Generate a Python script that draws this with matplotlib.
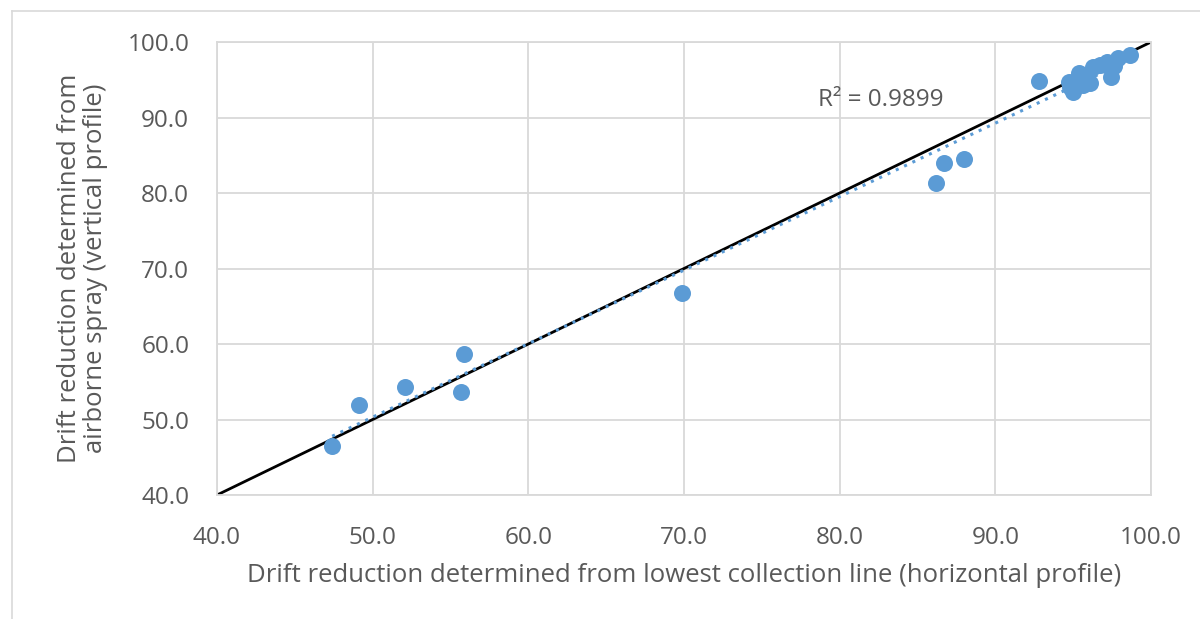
import numpy as np
import matplotlib
matplotlib.use('Agg')
import matplotlib.pyplot as plt

# drift reduction values
horizontal = [47.4, 49.1, 52.1, 55.7, 55.9, 69.9, 86.2, 86.7, 88.0, 92.8,
              94.8, 95.0, 94.7, 95.4, 95.9, 96.1, 96.3, 96.7, 97.2, 97.4,
              97.9, 98.65, 97.6, 95.6, 95.3]
vertical = [46.5, 51.9, 54.3, 53.6, 58.7, 66.8, 81.3, 84.0, 84.5, 94.8,
            94.0, 93.4, 94.7, 95.9, 95.2, 94.6, 96.7, 97.0, 97.4, 95.4,
            97.9, 98.3, 96.8, 94.3, 95.0]
r2_label = "R² = 0.9899"
ticks = [40, 50, 60, 70, 80, 90, 100]

plt.rcParams['font.family'] = ['Open Sans', 'DejaVu Sans']

fig = plt.figure(figsize=(12, 6.19), dpi=100)
ax = fig.add_axes([0.1808, 0.2003, 0.7784, 0.7318])

grey = '#D9D9D9'
txt = '#595959'

ax.grid(True, color=grey, linewidth=1.3)
ax.set_axisbelow(True)
for s in ax.spines.values():
  s.set_color(grey)
  s.set_linewidth(1.3)

# 1:1 line
ax.plot([40, 100], [40, 100], color='black', linewidth=2, zorder=2)

# linear trendline (dotted)
x = np.array(horizontal)
y = np.array(vertical)
k, b = np.polyfit(x, y, 1)
xs = np.array([x.min(), x.max()])
ax.plot(xs, k * xs + b, color='#5B9BD5', linestyle=(0, (1, 2)), linewidth=2.2, zorder=3)

ax.scatter(x, y, s=150, color='#5B9BD5', zorder=4, linewidths=0)

ax.text(78.6, 92.3, r2_label, fontsize=17.5, color=txt, ha='left', va='center')

ax.set_xlim(40, 100)
ax.set_ylim(40, 100)
ax.set_xticks(ticks)
ax.set_yticks(ticks)
ax.set_xticklabels(["{:.1f}".format(t) for t in ticks])
ax.set_yticklabels(["{:.1f}".format(t) for t in ticks])
ax.tick_params(length=0, labelsize=17.5, labelcolor=txt)
ax.tick_params(axis='y', pad=20)
ax.tick_params(axis='x', pad=22)

ax.set_xlabel("Drift reduction determined from lowest collection line (horizontal profile)",
              fontsize=18.5, color=txt, labelpad=10)
ax.set_ylabel("Drift reduction determined from\nairborne spray (vertical profile)",
              fontsize=18.5, color=txt, labelpad=14, linespacing=1.05)

# chart border (partly cropped in the reference)
fig.add_artist(plt.Line2D([12 / 1200, 1], [1 - 11 / 619, 1 - 11 / 619], color=grey, linewidth=1.2))
fig.add_artist(plt.Line2D([12 / 1200, 12 / 1200], [0, 1 - 11 / 619], color=grey, linewidth=1.2))

fig.savefig('out.png', dpi=100)
